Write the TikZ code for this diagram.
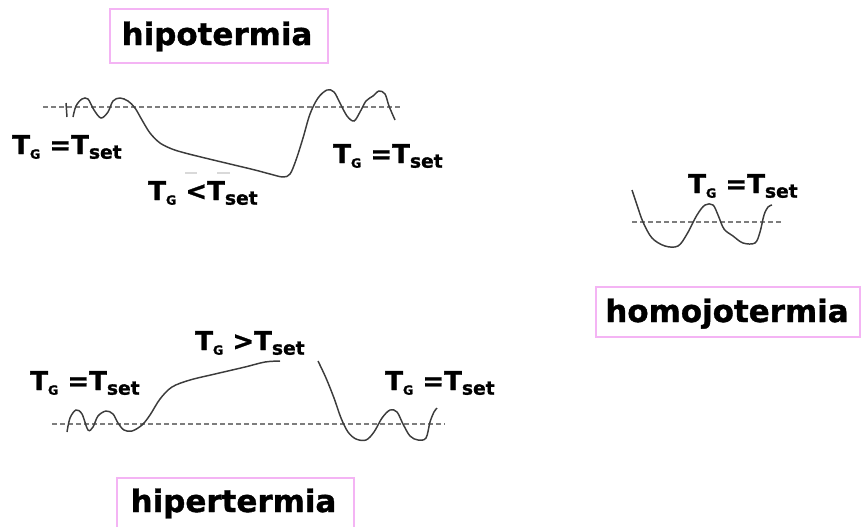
\documentclass[tikz,border=0pt]{standalone}
\usepackage{fontspec}
\setmainfont{DejaVu Sans}
\newfontfamily\heavy{DejaVu Sans Bold}[FakeBold=1.2]
\definecolor{boxpink}{RGB}{244,180,244}
\definecolor{curvegray}{RGB}{60,60,60}
\definecolor{dashgray}{RGB}{125,125,125}
\newcommand\tlab[1]{{\heavy\fontsize{19.5}{20}\selectfont T\raisebox{-3.5pt}{\fontsize{9.5}{9}\selectfont G} #1T\raisebox{-3.5pt}{\fontsize{14}{14}\selectfont set}}}
\tikzset{
  titlebox/.style={draw=boxpink, line width=1.2pt},
  titletext/.style={anchor=base, inner sep=0pt, font=\heavy\fontsize{23.2}{24}\selectfont},
  lab/.style={anchor=base west, inner sep=0pt},
  curve/.style={draw=curvegray, line width=1.1pt, smooth, tension=0.55},
  setline/.style={draw=dashgray, line width=1.4pt, dash pattern=on 3.6pt off 2.4pt},
}
\begin{document}
\begin{tikzpicture}[x=0.75pt,y=-0.75pt]
\useasboundingbox (0,0) rectangle (862,526);
% ---------------- hipotermia ----------------
\draw[titlebox] (110,9) rectangle (328,63);
\node[titletext] (thipo) at (217,45) {hipotermia};
\draw[setline] (43,107) -- (402,107);
\draw[curvegray, line width=1.1pt] (66,103) -- (67,117);
\draw[curve] plot coordinates {(73,117) (76,106) (82,99) (88,99) (94,110) (101,118) (108,112) (113,101) (120,98) (128,101) (135,108) (142,120) (150,133) (160,143) (172,149) (185,153) (205,158) (230,164) (255,170) (270,174) (283,177) (290,174) (296,160) (303,138) (310,114) (318,98) (327,90) (334,92) (340,103) (347,116) (354,121) (360,112) (366,101) (373,96) (379,91) (385,94) (389,106) (395,120)};
\draw[gray!30, line width=1pt] (185,173) -- (197,173) (217,173) -- (230,173);
\node[lab] (hl) at (12,154) {\tlab{=}};
\node[lab] (hr) at (333,163) {\tlab{=}};
\node[lab] (hm) at (148,200) {\tlab{<}};
% ---------------- hipertermia ----------------
\draw[titlebox] (117,478) rectangle (354,530);
\node[titletext] (thiper) at (233.5,512) {hipertermia};
\draw[setline] (52,424) -- (445,424);
\draw[curve] plot coordinates {(67,432) (70,418) (76,410) (82,414) (88,430) (93,427) (98,416) (106,411) (113,414) (118,423) (124,430) (132,431) (142,425) (150,415) (160,399) (172,387) (190,380) (215,374) (245,367) (265,362) (280,361)};
\draw[curve] plot coordinates {(318,361) (326,378) (334,398) (341,418) (348,432) (356,439) (366,440) (374,432) (382,418) (390,410) (397,412) (403,424) (410,436) (418,440) (426,438) (430,422) (434,412) (437,408)};
\node[lab] (pl) at (30,390) {\tlab{=}};
\node[lab] (pr) at (385,390) {\tlab{=}};
\node[lab] (pm) at (195,350) {\tlab{>}};
% ---------------- homojotermia ----------------
\draw[titlebox] (596,287) rectangle (860,337);
\node[titletext] (thomo) at (727,322) {homojotermia};
\draw[setline] (632,222) -- (782,222);
\draw[curve] plot coordinates {(632,190) (637,205) (643,222) (652,238) (665,246) (678,246) (687,234) (697,215) (705,205) (713,205) (718,215) (724,229) (733,236) (743,243) (755,243) (760,232) (764,215) (768,207) (772,205)};
\node[lab] (ol) at (688,193) {\tlab{=}};
\end{tikzpicture}
\end{document}
